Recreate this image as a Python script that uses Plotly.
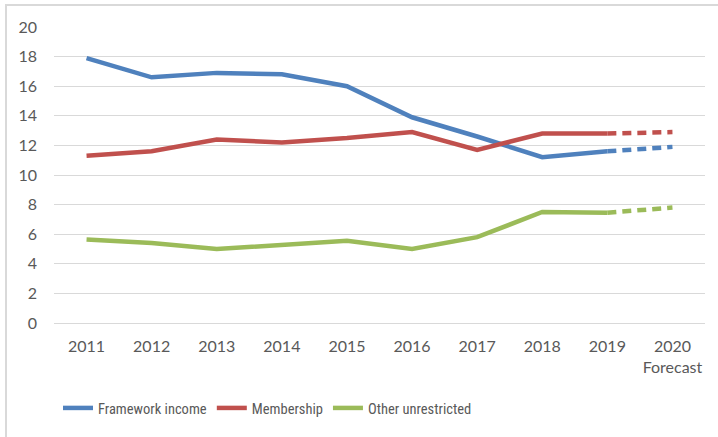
import plotly.graph_objects as go

years = ["2011", "2012", "2013", "2014", "2015", "2016", "2017", "2018", "2019", "2020"]
tick_labels = ["2011", "2012", "2013", "2014", "2015", "2016", "2017", "2018", "2019", "2020<br>Forecast"]
framework_income = [17.9, 16.6, 16.9, 16.8, 16.0, 13.9, 12.6, 11.2, 11.6, 11.9]
membership = [11.3, 11.6, 12.4, 12.2, 12.5, 12.9, 11.7, 12.8, 12.8, 12.9]
other_unrestricted = [5.65, 5.4, 5.0, 5.3, 5.55, 5.0, 5.8, 7.5, 7.45, 7.8]

series_names = ["Framework income", "Membership", "Other unrestricted"]
series_values = [framework_income, membership, other_unrestricted]
colors = ["#4f81bd", "#c0504d", "#9bbb59"]

W, H = 718, 437
ml, mr, mt, mb = 54, 13, 27, 114
pw, ph = W - ml - mr, H - mt - mb

fig = go.Figure()
for name, vals, col in zip(series_names, series_values, colors):
    fig.add_trace(go.Scatter(x=years[:9], y=vals[:9], mode="lines", name=name,
                             legendgroup=name,
                             line=dict(color=col, width=4.5)))
    fig.add_trace(go.Scatter(x=years[8:], y=vals[8:], mode="lines", name=name,
                             legendgroup=name, showlegend=False,
                             line=dict(color=col, width=4.5, dash="9px,6px")))

tick_font = dict(family="Lato, Carlito, Open Sans, Arial", size=16, color="#595959")
legend_font = dict(family="Liberation Sans Narrow, Roboto Condensed, Roboto, Arial", size=14.5, color="#595959")

def px_x(p):
    return (p - ml) / pw

def px_y(p):
    return (H - mb - p) / ph

fig.update_layout(
    width=W, height=H,
    margin=dict(l=ml, r=mr, t=mt, b=mb),
    paper_bgcolor="white", plot_bgcolor="white",
    font=tick_font,
    xaxis=dict(type="category", tickmode="array", tickvals=years, ticktext=tick_labels,
               range=[-0.5, 9.5],
               showgrid=False, showline=False, ticks="", tickfont=tick_font, fixedrange=True,
               ticklabelstandoff=12),
    yaxis=dict(range=[0, 20], dtick=2, showgrid=True, gridcolor="#d9d9d9", gridwidth=1,
               zeroline=True, zerolinecolor="#d9d9d9", zerolinewidth=1,
               showline=False, ticks="", tickfont=tick_font, ticklabelstandoff=16,
               fixedrange=True),
    legend=dict(orientation="h", x=px_x(58), xanchor="left", y=px_y(408), yanchor="middle",
                font=legend_font, itemwidth=30, tracegroupgap=18),
    showlegend=True,
    shapes=[
        dict(type="line", xref="paper", yref="paper", x0=px_x(5), x1=px_x(718),
             y0=px_y(5), y1=px_y(5), line=dict(color="#d9d9d9", width=2)),
        dict(type="line", xref="paper", yref="paper", x0=px_x(6), x1=px_x(6),
             y0=px_y(5), y1=px_y(437), line=dict(color="#d9d9d9", width=2)),
    ],
)

fig.write_html("out.html", config={"displayModeBar": False},
               post_script="document.body.style.margin='0';")
